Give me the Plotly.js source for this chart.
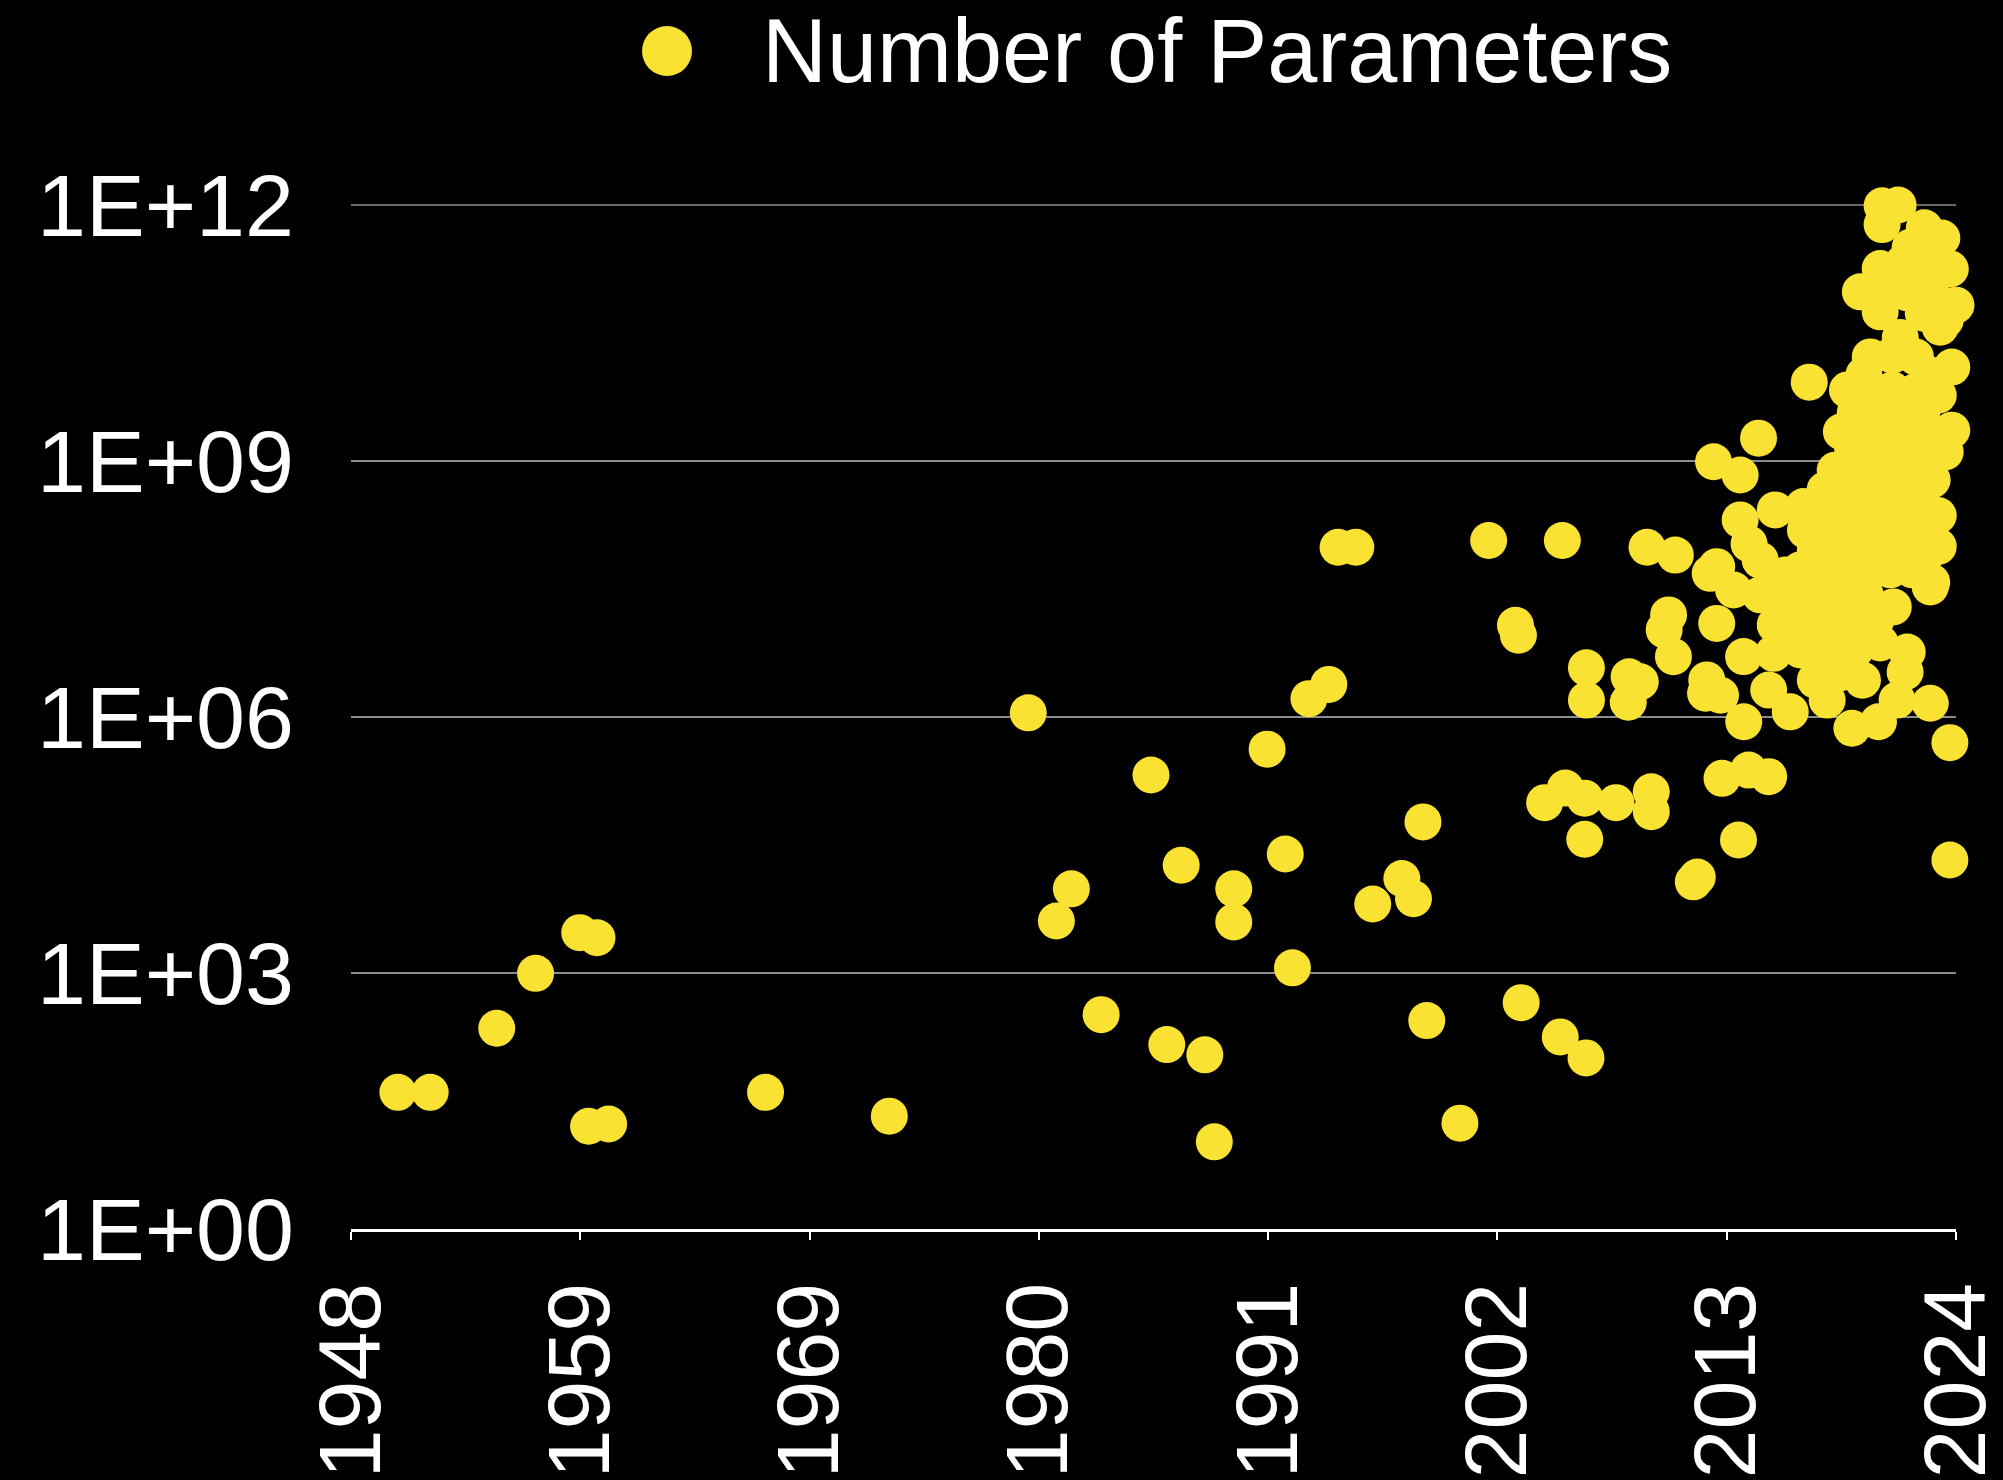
<!DOCTYPE html>
<html>
<head>
<meta charset="utf-8">
<script src="https://cdn.plot.ly/plotly-3.0.1.min.js"></script>
<style>
  html, body { margin: 0; padding: 0; background: #000; }
  #chart { width: 2003px; height: 1480px; }
</style>
</head>
<body>
<div id="chart"></div>
<script>
// ---- Data (year, number of parameters) ----
const seriesName = "Number of Parameters";

const years = [
  // early systems
  1950.22, 1951.75, 1954.9, 1956.74, 1958.83, 1959.65, 1959.25, 1960.2, 1967.63, 1973.49,
  // 1980s - 1990s
  1980.07, 1981.4, 1982.11, 1983.52, 1985.88, 1986.63, 1987.31, 1988.43, 1988.88, 1989.8,
  1989.8, 1991.38, 1992.24, 1992.58, 1993.36, 1994.3, 1994.74, 1995.58, 1996.38, 1997.76,
  1998.31, 1998.76, 1998.94, 2000.51,
  // 2000s
  2001.87, 2003.14, 2003.28, 2003.41, 2004.52, 2005.36, 2005.5, 2005.26, 2006.48, 2006.42,
  2006.42, 2006.5, 2006.5, 2007.9, 2008.52, 2008.48, 2009.05, 2009.37, 2009.57, 2009.57,
  2010.39, 2010.18, 2010.62, 2010.71, 2011.75, 2011.56, 2012.52, 2012.92, 2014.18, 2015.13,
  2013.7, 2013.78, 2014.65, 2017.05, 2023.71, 2023.71,
  // 2012 - 2023 edge points
  2012.14, 2012.2, 2012.85, 2012.36, 2012.67, 2012.67, 2013.78, 2013.95, 2013.94, 2015.13,
  2015.44, 2015.36, 2016.15, 2019.07, 2020.33, 2022.78, 2022.78, 2021.69, 2021.59, 2021.21,
  2020.41, 2018.51, 2017.9, 2021.03, 2013.47, 2016.78, 2014.2,
  // dense recent cluster
  2020.5, 2021.26, 2020.5, 2022.5, 2023.33, 2021.83, 2023.73, 2020.41, 2021.5, 2022.5,
  2019.47, 2020.65, 2021.69, 2022.78, 2024.0, 2020.41, 2022.45, 2023.49, 2021.36, 2023.25,
  2019.94, 2020.99, 2022.08, 2023.8, 2019.64, 2022.78, 2018.86, 2019.94, 2020.99, 2022.08,
  2023.16, 2019.23, 2020.32, 2021.36, 2022.41, 2023.8, 2018.57, 2019.66, 2020.75, 2021.83,
  2022.78, 2019.1, 2023.49, 2022.31, 2021.12, 2020.03, 2018.28, 2019.47, 2020.51, 2021.6,
  2022.87, 2017.8, 2018.99, 2020.03, 2021.12, 2022.07, 2017.57, 2018.66, 2019.7, 2020.79,
  2021.83, 2023.16, 2016.87, 2017.96, 2018.99, 2020.03, 2021.12, 2022.21, 2023.16, 2017.34,
  2018.43, 2019.47, 2020.56, 2021.6, 2022.55, 2016.63, 2017.67, 2018.76, 2019.85, 2020.89,
  2021.93, 2022.85, 2014.73, 2015.91, 2014.73, 2016.15, 2017.34, 2018.52, 2019.7, 2015.44,
  2016.63, 2017.81, 2018.99, 2020.17, 2016.63, 2017.81, 2019.23, 2017.34, 2019.57
];

const parameters = [
  40, 40, 225, 990, 2970, 2590, 16, 17, 40, 21,
  1.12e6, 4070, 9700, 325, 2.09e5, 145, 1.83e4, 110, 10.5, 9700,
  3970, 4.2e5, 2.48e4, 1150, 1.64e6, 2.41e6, 9.75e7, 9.75e7, 6440, 1.28e4,
  7430, 5.9e4, 277, 17.4,
  1.17e8, 1.19e7, 9.07e6, 449, 9.9e4, 1.17e8, 1.47e5, 178, 101, 1.12e5,
  3.69e4, 3.77e6, 1.58e6, 9.9e4, 2.96e6, 1.49e6, 2.59e6, 9.75e7, 1.33e5, 7.77e4,
  1.57e7, 1.05e7, 5.09e6, 7.9e7, 1.33e4, 1.17e4, 9.8e8, 1.91e5, 2.39e5, 2.0e5,
  3.62e4, 6.86e8, 1.85e9, 8.4e9, 5.0e5, 2.11e4,
  1.9e6, 2.72e6, 1.8e6, 4.83e7, 5.78e7, 1.25e7, 2.04e8, 8.8e5, 5.1e6, 2.07e6,
  2.67e8, 5.58e6, 1.15e6, 7.38e5, 8.8e5, 1.45e6, 3.34e7, 5.78e6, 3.37e6, 1.58e6,
  7.37e6, 3.28e6, 1.58e6, 1.95e7, 3.08e7, 2.92e8, 1.07e8,
  9.8e11, 1.0e12, 5.9e11, 5.4e11, 4.1e11, 3.2e11, 1.78e11, 1.8e11, 2.1e11, 2.0e11,
  9.6e10, 1.0e11, 9.3e10, 1.1e11, 6.7e10, 5.6e10, 5.4e10, 4.5e10, 2.8e10, 3.7e10,
  1.66e10, 1.74e10, 1.66e10, 1.26e10, 1.02e10, 1.02e10, 6.8e9, 6.5e9, 6.8e9, 6.5e9,
  5.9e9, 3.7e9, 4.0e9, 3.7e9, 4.0e9, 2.3e9, 2.2e9, 2.2e9, 2.3e9, 2.2e9,
  2.2e9, 1.42e9, 1.28e9, 1.28e9, 1.28e9, 1.28e9, 7.8e8, 7.8e8, 7.8e8, 7.8e8,
  6.0e8, 4.6e8, 4.6e8, 4.6e8, 4.6e8, 4.4e8, 2.7e8, 2.7e8, 2.7e8, 2.7e8,
  2.7e8, 2.3e8, 1.55e8, 1.55e8, 1.55e8, 1.55e8, 1.55e8, 1.55e8, 1.0e8, 9.1e7,
  9.1e7, 9.1e7, 9.1e7, 9.1e7, 7.9e7, 5.3e7, 5.3e7, 5.3e7, 5.3e7, 5.3e7,
  5.3e7, 3.8e7, 6.9e7, 4.6e7, 2.7e7, 2.35e7, 2.7e7, 2.7e7, 2.7e7, 1.2e7,
  1.2e7, 1.2e7, 1.2e7, 1.3e7, 6.1e6, 6.1e6, 6.1e6, 2.7e6, 2.7e6
];

// Axis ticks
const xTickVals = [1948, 1948 + 76/7, 1948 + 2*76/7, 1948 + 3*76/7, 1948 + 4*76/7, 1948 + 5*76/7, 1948 + 6*76/7, 2024];
const xTickText = ["1948", "1959", "1969", "1980", "1991", "2002", "2013", "2024"];
const yTickVals = [1, 1e3, 1e6, 1e9, 1e12];
const yTickText = ["1E+00", "1E+03", "1E+06", "1E+09", "1E+12"];

const yellow = "#F9E232";
const gridColor = "#8c8c8c";
const fontFamily = "Liberation Sans, Arial, Helvetica, sans-serif";

const trace = {
  type: "scatter",
  mode: "markers",
  name: seriesName,
  x: years,
  y: parameters,
  cliponaxis: false,
  showlegend: false,
  marker: { color: yellow, size: 37, line: { width: 0 } }
};

const W = 2003, H = 1480;
const mL = 351, mR = 47, mT = 205, mB = 251;
const pw = W - mL - mR, ph = H - mT - mB;

const layout = {
  width: W, height: H,
  margin: { l: mL, r: mR, t: mT, b: mB, pad: 0 },
  paper_bgcolor: "#000",
  plot_bgcolor: "#000",
  font: { family: fontFamily, color: "#fff", size: 88 },
  showlegend: false,
  xaxis: {
    range: [1948, 2024],
    tickmode: "array",
    tickvals: xTickVals,
    ticktext: xTickText,
    tickangle: -90,
    ticks: "outside",
    ticklen: 8,
    tickwidth: 2,
    tickcolor: "#fff",
    showline: true,
    linecolor: "#fff",
    linewidth: 2.5,
    showgrid: false,
    zeroline: false,
    ticklabelstandoff: 8,
    ticklabeloverflow: "allow",
    tickfont: { family: fontFamily, size: 88, color: "#fff" }
  },
  xaxis2: {
    overlaying: "x",
    anchor: "y",
    side: "bottom",
    range: [1948, 2024],
    tickmode: "array",
    tickvals: xTickVals,
    ticks: "inside",
    ticklen: 8,
    tickwidth: 2,
    tickcolor: "#fff",
    showticklabels: false,
    showline: false,
    showgrid: false,
    zeroline: false
  },
  yaxis: {
    type: "log",
    range: [0, 12],
    tickmode: "array",
    tickvals: yTickVals,
    ticktext: yTickText,
    ticks: "",
    showline: false,
    showgrid: true,
    gridcolor: gridColor,
    gridwidth: 1.5,
    zeroline: false,
    ticklabelstandoff: 56,
    tickfont: { family: fontFamily, size: 88, color: "#fff" }
  },
  shapes: [
    {
      // top gridline (1E+12), which sits on the plot edge
      type: "line",
      xref: "paper", yref: "paper",
      x0: 0, x1: 1, y0: 1, y1: 1,
      layer: "below",
      line: { color: gridColor, width: 1.5 }
    },
    {
      // legend marker
      type: "circle",
      xref: "paper", yref: "paper",
      xsizemode: "pixel", ysizemode: "pixel",
      xanchor: (667 - mL) / pw, yanchor: (H - mB - 51) / ph,
      x0: -25, x1: 25, y0: -25, y1: 25,
      fillcolor: yellow,
      line: { width: 0 }
    }
  ],
  annotations: [{
    xref: "paper", yref: "paper",
    x: (760 - mL) / pw, y: (H - mB - 51) / ph,
    xanchor: "left", yanchor: "middle",
    showarrow: false,
    text: seriesName,
    font: { family: fontFamily, size: 90, color: "#fff" }
  }]
};

Plotly.newPlot("chart", [trace], layout, { staticPlot: true, displayModeBar: false });
</script>
</body>
</html>
